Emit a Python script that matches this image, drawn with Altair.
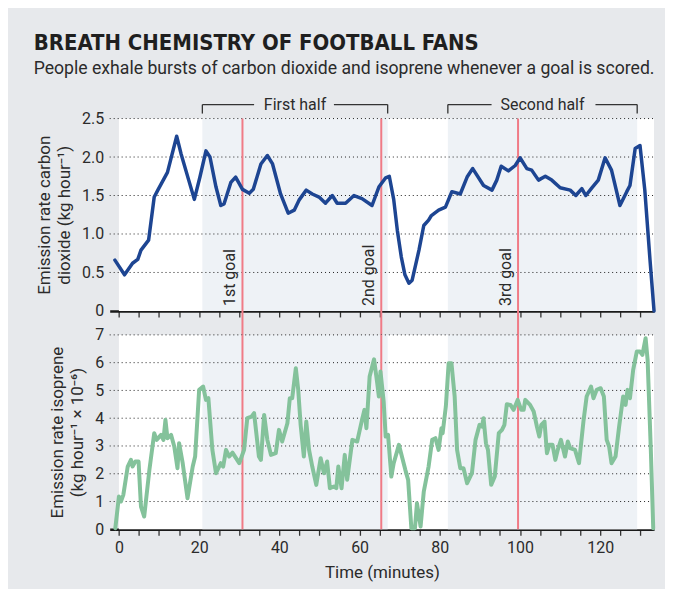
import altair as alt
import pandas as pd

# ---------------- data ----------------
co2_t = [-1.0, 1.4, 3.4, 4.7, 5.5, 7.4, 8.8, 9.7, 12.1, 14.4, 15.5, 17.4, 18.8, 20.2,
         21.7, 22.7, 24.2, 25.4, 26.2, 27.9, 29.1, 30.8, 32.5, 33.5, 35.4, 37.0, 38.3,
         40.3, 42.2, 43.7, 44.9, 46.7, 48.2, 49.9, 51.5, 53.2, 54.4, 56.5, 58.6, 60.6,
         63.1, 64.8, 66.5, 67.4, 68.5, 69.4, 70.4, 71.3, 72.3, 73.1, 74.8, 76.0, 77.2,
         77.9, 79.7, 81.4, 83.0, 85.1, 86.8, 88.2, 90.9, 93.0, 94.2, 95.3, 97.1, 98.8,
         100.0, 101.7, 102.9, 104.6, 106.3, 107.9, 110.0, 112.5, 113.9, 115.4, 116.4,
         117.9, 119.5, 121.2, 122.8, 124.9, 126.6, 127.4, 128.7, 129.9, 131.1, 132.4, 133.4]
co2_v = [0.66, 0.47, 0.62, 0.67, 0.79, 0.92, 1.48, 1.57, 1.80, 2.27, 2.04, 1.70, 1.45, 1.74,
         2.08, 2.00, 1.61, 1.37, 1.39, 1.67, 1.74, 1.58, 1.53, 1.58, 1.91, 2.02, 1.91,
         1.52, 1.27, 1.31, 1.44, 1.57, 1.52, 1.48, 1.40, 1.50, 1.40, 1.40, 1.50, 1.46,
         1.37, 1.61, 1.73, 1.75, 1.45, 1.05, 0.70, 0.47, 0.36, 0.40, 0.79, 1.11, 1.18,
         1.24, 1.31, 1.35, 1.55, 1.52, 1.74, 1.85, 1.63, 1.57, 1.70, 1.88, 1.82, 1.89,
         1.99, 1.85, 1.83, 1.70, 1.75, 1.70, 1.60, 1.57, 1.50, 1.59, 1.50,
         1.60, 1.70, 1.99, 1.83, 1.37, 1.55, 1.63, 2.11, 2.15, 1.57, 0.66, 0.0]

iso_t = [-0.9, 0.0, 0.5, 1.1, 2.2, 3.0, 3.4, 4.1, 4.9, 5.5, 6.3, 7.6, 8.8, 9.4, 10.5, 11.1,
         11.6, 12.1, 13.0, 13.8, 14.6, 15.0, 15.9, 17.1, 18.4, 19.0, 20.0, 21.0, 21.7, 22.3,
         23.3, 24.2, 25.4, 26.0, 26.7, 27.5, 28.3, 30.0, 31.2, 32.0, 33.1, 33.7, 34.9, 35.4,
         36.2, 37.0, 37.9, 39.1, 39.9, 40.7, 42.0, 42.6, 43.2, 44.1, 44.7, 45.3, 46.1, 46.7,
         47.4, 48.2, 49.2, 50.3, 51.1, 51.9, 52.6, 53.6, 54.2, 54.7, 55.5, 56.3, 56.9, 58.2,
         59.4, 60.6, 61.2, 61.7, 62.5, 63.6, 64.4, 64.8, 65.2, 66.0, 66.5, 67.1, 67.9, 68.5,
         69.8, 71.4, 72.1, 72.9, 73.8, 74.3, 75.2, 76.0, 77.2, 78.1, 78.9, 79.7, 80.4, 80.7,
         81.5, 82.2, 82.9, 83.7, 84.3, 85.1, 85.9, 86.8, 88.0, 88.9, 89.9, 90.5, 90.9, 91.5,
         92.0, 92.8, 93.7, 94.7, 95.5, 96.1, 96.7, 97.6, 98.4, 99.4, 100.3, 100.9, 101.3,
         102.5, 103.4, 104.2, 104.8, 105.3, 106.1, 106.7, 107.3, 108.1, 108.8, 109.4, 110.2,
         111.2, 111.9, 112.5, 113.7, 114.7, 115.8, 116.6, 117.7, 118.3, 119.1, 120.1, 120.9,
         121.6, 122.2, 122.8, 123.8, 124.7, 125.7, 126.3, 126.8, 127.4, 128.2, 129.1, 129.9,
         130.5, 131.3, 131.8, 132.6, 133.2]
iso_v = [0.04, 1.18, 1.00, 1.24, 2.26, 2.50, 2.26, 2.44, 2.44, 0.82, 0.46, 2.14, 3.46, 3.22, 3.40, 3.22,
         3.94, 3.28, 3.40, 2.98, 2.20, 3.10, 2.38, 1.12, 2.26, 2.62, 5.02, 5.14, 4.66, 4.72,
         2.86, 2.02, 2.38, 2.26, 2.86, 2.62, 2.76, 2.38, 2.86, 4.00, 4.06, 4.18, 2.62, 2.50,
         4.12, 3.22, 2.68, 2.74, 3.58, 3.16, 3.82, 4.72, 4.72, 5.80, 5.02, 3.76, 2.62, 3.88,
         2.86, 2.26, 1.60, 2.56, 2.02, 2.44, 1.48, 1.54, 1.48, 2.26, 1.48, 2.68, 1.78, 3.22,
         3.16, 3.94, 4.30, 3.64, 5.50, 6.12, 5.26, 4.78, 5.68, 4.60, 3.34, 3.40, 1.90, 2.38,
         3.04, 2.14, 1.78, 0.04, 0.04, 0.94, 0.10, 1.36, 2.26, 3.22, 3.28, 2.86, 3.64, 3.46,
         4.42, 5.98, 5.98, 4.78, 2.86, 2.20, 2.20, 1.66, 2.02, 3.22, 3.76, 3.70, 4.00, 3.10,
         2.86, 1.60, 1.90, 3.46, 3.58, 3.76, 4.50, 4.48, 4.30, 4.66, 4.30, 4.30, 4.66,
         4.48, 4.24, 3.70, 3.34, 3.76, 3.88, 2.74, 3.04, 3.04, 2.50, 2.86, 3.22,
         2.62, 3.16, 2.92, 2.86, 2.38, 3.88, 4.78, 5.14, 4.72, 5.02, 5.08, 4.78,
         3.22, 2.98, 2.38, 2.62, 3.70, 4.78, 4.48, 5.02, 4.72, 5.74, 6.40, 6.40,
         6.28, 6.88, 6.10, 2.86, 0.04]

goal_t = [30.8, 65.4, 99.5]
goal_labels = ["1st goal", "2nd goal", "3rd goal"]

half_names = ["First half", "Second half"]
half_start = [20.8, 82.0]
half_end = [67.0, 129.2]
half_gap_l = [33.7, 92.9]
half_gap_r = [53.6, 118.8]

x_min, x_max = -2.3, 133.4
time_ticks = list(range(0, 131, 5))
co2_ticks = [0, 0.5, 1.0, 1.5, 2.0, 2.5]
iso_ticks = [0, 1, 2, 3, 4, 5, 6, 7]

# ---------------- tables ----------------
co2_df = pd.DataFrame({"t": co2_t, "v": co2_v})
iso_df = pd.DataFrame({"t": iso_t, "v": iso_v})
goals_df = pd.DataFrame({"t": goal_t, "label": goal_labels})
halves_df = pd.DataFrame({"name": half_names, "s": half_start, "e": half_end,
                          "gl": half_gap_l, "gr": half_gap_r})
halves_df["mid"] = (halves_df["s"] + halves_df["e"]) / 2
plot_df = pd.DataFrame({"s": [0], "e": [x_max]})

W, H1, H2, GAP = 546, 193, 195, 24
FONT = "Roboto"
TXT = "#2b2b2b"
BG = "#e7e9ec"
HALF = "#eef2f6"
RED = "#f07b86"

xs = alt.Scale(domain=[x_min, x_max], nice=False, zero=False)


def panel(df, ticks, height, color, width_line, ytitle, bottom):
    ys = alt.Scale(domain=[ticks[0], ticks[-1]], nice=False, zero=True)
    grid_df = pd.DataFrame({"v": ticks[1:]})
    if bottom:
        xaxis = alt.Axis(values=time_ticks, labelExpr="datum.value % 20 == 0 ? datum.label : ''",
                         title="Time (minutes)", grid=False, domainColor="#1a1a1a", domainWidth=2.5,
                         tickColor="#333", tickSize=6, tickWidth=1.3, labelFontSize=16,
                         labelColor=TXT, labelPadding=4, titleFontSize=17, titleFontWeight="normal",
                         titleColor=TXT, titlePadding=9, labelFont=FONT, titleFont=FONT)
        ylabel = "datum.label"
    else:
        xaxis = alt.Axis(values=time_ticks, labels=False, title=None, grid=False,
                         domainColor="#1a1a1a", domainWidth=2.5, tickColor="#333",
                         tickSize=6, tickWidth=1.3)
        ylabel = "datum.value == 0 ? '0' : format(datum.value, '.1f')"
    yaxis = alt.Axis(values=ticks, labelExpr=ylabel, title=ytitle, grid=False, domain=False,
                     ticks=False, labelPadding=6, labelFontSize=16, labelColor=TXT,
                     titleFontSize=17, titleFontWeight="normal", titleColor=TXT,
                     titlePadding=8, titleLineHeight=20, labelFont=FONT, titleFont=FONT)
    X = lambda f: alt.X(f, scale=xs, axis=xaxis)
    Y = lambda f: alt.Y(f, scale=ys, axis=yaxis)

    white = alt.Chart(plot_df).mark_rect(color="white").encode(
        x=X("s:Q"), x2="e:Q", y=alt.value(0), y2=alt.value(height))
    shade = alt.Chart(halves_df).mark_rect(color=HALF).encode(
        x=X("s:Q"), x2="e:Q", y=alt.value(0), y2=alt.value(height))
    grid = alt.Chart(grid_df).mark_rule(color="#222", strokeDash=[1, 3], strokeWidth=1).encode(
        y=Y("v:Q"), x=alt.value(0), x2=alt.value(W))
    goals = alt.Chart(goals_df).mark_rule(color=RED, strokeWidth=2).encode(
        x=X("t:Q"), y=alt.value(0),
        y2=alt.value(height if bottom else height + GAP))
    line = alt.Chart(df).mark_line(color=color, strokeWidth=width_line, strokeJoin="round",
                                   strokeCap="round").encode(x=X("t:Q"), y=Y("v:Q"))
    layers = [white, shade, grid, goals, line]
    if not bottom:
        glabels = alt.Chart(goals_df).mark_text(angle=270, align="left", baseline="bottom",
                                                 dx=5, dy=-4, fontSize=16, font=FONT,
                                                 color=TXT).encode(
            x=X("t:Q"), y=alt.value(height), text="label:N")
        bl = alt.Chart(halves_df).mark_rule(color="#333", strokeWidth=1.3).encode(
            x=X("s:Q"), x2="gl:Q", y=alt.value(-14))
        br = alt.Chart(halves_df).mark_rule(color="#333", strokeWidth=1.3).encode(
            x=X("gr:Q"), x2="e:Q", y=alt.value(-14))
        tl = alt.Chart(halves_df).mark_rule(color="#333", strokeWidth=1.3).encode(
            x=X("s:Q"), y=alt.value(-14), y2=alt.value(-5))
        tr = alt.Chart(halves_df).mark_rule(color="#333", strokeWidth=1.3).encode(
            x=X("e:Q"), y=alt.value(-14), y2=alt.value(-5))
        bt = alt.Chart(halves_df).mark_text(fontSize=16, font=FONT, color=TXT,
                                            baseline="middle").encode(
            x=X("mid:Q"), y=alt.value(-14), text="name:N")
        layers += [glabels, bl, br, tl, tr, bt]
    return alt.layer(*layers).properties(width=W, height=height)


top = panel(co2_df, co2_ticks, H1, "#1d4592", 3.5,
            ["Emission rate carbon", "dioxide (kg hour\u207b\u00b9)"], False)
bottom = panel(iso_df, iso_ticks, H2, "#84c29b", 4,
               ["Emission rate isoprene", "(kg hour\u207b\u00b9 \u00d7 10\u207b\u2076)"], True)

chart = alt.vconcat(top, bottom, spacing=GAP, bounds="flush").properties(
    title=alt.TitleParams(
        text="BREATH CHEMISTRY OF FOOTBALL FANS",
        subtitle="People exhale bursts of carbon dioxide and isoprene whenever a goal is scored.",
        anchor="start", font="DejaVu Sans Condensed, sans-serif",
        fontSize=22, fontWeight="bold", color="#1f1f1f",
        subtitleFont=FONT, subtitleFontSize=17.7, subtitleColor=TXT, subtitlePadding=5,
        offset=18, dx=-2),
    background=BG,
    padding={"left": 25, "top": 23, "right": 9, "bottom": 8},
).configure_view(stroke=None)

chart.save("out.html", embed_options={"renderer": "svg", "actions": False})
